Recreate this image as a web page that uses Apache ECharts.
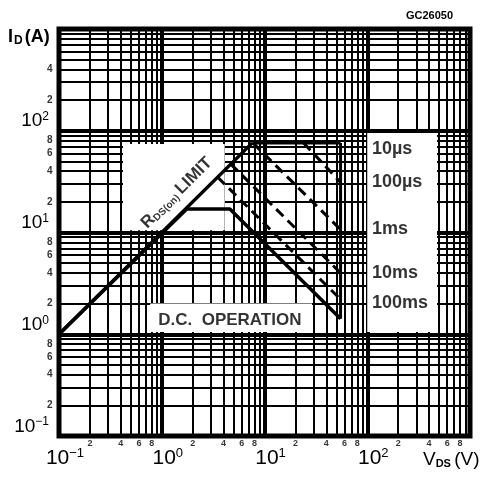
<!DOCTYPE html>
<html>
<head>
<meta charset="utf-8">
<script src="https://cdn.jsdelivr.net/npm/echarts@6/dist/echarts.min.js"></script>
<style>
    html, body { margin: 0; padding: 0; background: #fff; }
    #chart { width: 487px; height: 479px; }
</style>
</head>
<body>
<div id="chart"></div>
<script>
// safe operating area, points are [VDS (V), ID (A)]
var rdsLimit = [[0.1, 1], [7.6, 76]];
var pulse10us = [[7.6, 76], [55, 76]];
var pulse100us = [[24, 76], [55, 31]];
var pulse1ms = [[7.7, 76], [55, 10.7]];
var pulse10ms = [[4.7, 47], [55, 4.0]];
var pulse100ms = [[3.5, 35], [55, 2.2]];
var dcOperation = [[0.1, 1], [1.75, 17], [4.6, 17], [55, 1.42]];
var vdsLimit = [[55, 76], [55, 1.42]];

var pulseNames = ['10\u00b5s', '100\u00b5s', '1ms', '10ms', '100ms'];
var pulseLabelLevels = [66, 31, 10.7, 4.0, 2.04];

var decades = [0.1, 1, 10, 100];
var xMinorLabels = [0.2, 0.4, 0.6, 0.8, 2, 4, 6, 8, 20, 40, 60, 80, 200, 400, 600, 800];
var yMinorLabels = [0.2, 0.4, 0.6, 0.8, 2, 4, 6, 8, 20, 40, 60, 80, 200, 400];

// white boxes behind the texts, [[V, I], [V, I]]
var rdsBox = [[0.42, 74], [4.1, 10.5]];
var dcBox = [[0.77, 2.01], [29, 1.05]];
var legendBox = [[100, 95], [477, 1.05]];

var FONT = '"Liberation Sans", Arial, sans-serif';

function leadDigit(v) {
    var d = Math.pow(10, Math.floor(Math.log10(v) + 1e-9));
    return String(Math.round(v / d));
}

function gridLines(axisKey) {
    var lines = [];
    decades.forEach(function (d) {
        for (var m = 1; m <= 9; m++) {
            var item = {lineStyle: {width: m === 1 ? 4 : 2}};
            item[axisKey] = d * m;
            lines.push(item);
        }
    });
    return lines;
}

function curve(name, data, dashed, width) {
    return {
        name: name,
        type: 'line',
        data: data,
        symbol: 'none',
        z: 4,
        silent: true,
        lineStyle: {color: '#000', width: width, type: dashed ? [10, 6] : 'solid'}
    };
}

function box(b) {
    return [{coord: b[0]}, {coord: b[1]}];
}

function decadeLabel(value) {
    var e = Math.round(Math.log10(value));
    if (e === 3) {
        return '';
    }
    return '{b|10}{s|' + (e < 0 ? '\u2212' + (-e) : e) + '}';
}

var chart = echarts.init(document.getElementById('chart'));

var option = {
    animation: false,
    backgroundColor: '#fff',
    grid: {
        left: 59, right: 17, top: 29, bottom: 43,
        show: true, borderColor: '#000', borderWidth: 5
    },
    xAxis: {
        type: 'log', logBase: 10, min: 0.1, max: 1000,
        axisLine: {show: false},
        axisTick: {show: false},
        splitLine: {show: false},
        axisLabel: {
            margin: 11,
            padding: [0, 0, 0, 12],
            formatter: decadeLabel,
            rich: {
                b: {fontSize: 21, fontFamily: FONT, color: '#000', verticalAlign: 'bottom'},
                s: {fontSize: 13, fontFamily: FONT, color: '#000', verticalAlign: 'bottom', padding: [0, 0, 9, 0]}
            }
        }
    },
    yAxis: {
        type: 'log', logBase: 10, min: 0.1, max: 1000,
        axisLine: {show: false},
        axisTick: {show: false},
        splitLine: {show: false},
        axisLabel: {
            margin: 10,
            verticalAlign: 'bottom',
            formatter: decadeLabel,
            rich: {
                b: {fontSize: 19, fontFamily: FONT, color: '#000', verticalAlign: 'bottom'},
                s: {fontSize: 12, fontFamily: FONT, color: '#000', verticalAlign: 'bottom', padding: [0, 0, 8, 0]}
            }
        }
    },
    graphic: [
        {
            type: 'text', left: 8, top: 28,
            style: {
                text: '{i|I}{d|D}{a|(A)}',
                rich: {
                    i: {fontSize: 18, fontWeight: 'bold', fontFamily: FONT, fill: '#000'},
                    d: {fontSize: 12, fontWeight: 'bold', fontFamily: FONT, fill: '#000', verticalAlign: 'bottom', padding: [8, 2, 0, 1]},
                    a: {fontSize: 18, fontWeight: 'bold', fontFamily: FONT, fill: '#000'}
                }
            }
        },
        {
            type: 'text', left: 423, top: 450,
            style: {
                text: '{v|V}{d|DS} {a|(V)}',
                rich: {
                    v: {fontSize: 19, fontFamily: FONT, fill: '#000'},
                    d: {fontSize: 11, fontWeight: 'bold', fontFamily: FONT, fill: '#000', verticalAlign: 'bottom', padding: [9, 0, 0, 0]},
                    a: {fontSize: 19, fontFamily: FONT, fill: '#000'}
                }
            }
        },
        {
            type: 'text', left: 406, top: 10,
            style: {text: 'GC26050', fontSize: 11, fontWeight: 'bold', fontFamily: FONT, fill: '#000'}
        }
    ],
    series: [
        {
            name: 'grid',
            type: 'line',
            data: [],
            silent: true,
            markLine: {
                z: 1,
                silent: true,
                symbol: ['none', 'none'],
                label: {show: false},
                lineStyle: {color: '#000', type: 'solid', width: 2},
                data: gridLines('xAxis').concat(gridLines('yAxis'))
            },
            markArea: {
                z: 2,
                silent: true,
                itemStyle: {color: '#fff'},
                data: [box(rdsBox), box(dcBox), box(legendBox)]
            }
        },
        curve('RDS(on) limit', rdsLimit, false, 3.5),
        curve('10\u00b5s', pulse10us, false, 3),
        curve('100\u00b5s', pulse100us, true, 3),
        curve('1ms', pulse1ms, true, 3),
        curve('10ms', pulse10ms, true, 3),
        curve('100ms', pulse100ms, true, 3),
        curve('D.C. operation', dcOperation, false, 3.5),
        curve('VDS max', vdsLimit, false, 3),
        {
            name: 'x minor labels',
            type: 'scatter',
            symbolSize: 1,
            clip: false,
            silent: true,
            z: 5,
            itemStyle: {color: 'rgba(0,0,0,0)'},
            data: xMinorLabels.map(function (v) { return [v, 0.1]; }),
            label: {
                show: true, position: 'bottom', distance: 3,
                fontSize: 9, fontWeight: 'bold', fontFamily: FONT, color: '#000',
                formatter: function (p) { return leadDigit(p.value[0]); }
            }
        },
        {
            name: 'y minor labels',
            type: 'scatter',
            symbolSize: 1,
            clip: false,
            silent: true,
            z: 5,
            itemStyle: {color: 'rgba(0,0,0,0)'},
            data: yMinorLabels.map(function (v) { return [0.1, v]; }),
            label: {
                show: true, position: 'left', distance: 6,
                fontSize: 10, fontWeight: 'bold', fontFamily: FONT, color: '#000',
                formatter: function (p) { return leadDigit(p.value[1]); }
            }
        },
        {
            name: 'pulse labels',
            type: 'scatter',
            symbolSize: 1,
            silent: true,
            z: 5,
            itemStyle: {color: 'rgba(0,0,0,0)'},
            data: pulseLabelLevels.map(function (v, i) {
                return {value: [105, v], name: pulseNames[i]};
            }),
            label: {
                show: true, position: 'right', distance: 2,
                fontSize: 18, fontWeight: 'bold', fontFamily: FONT, color: '#000',
                formatter: '{b}'
            }
        },
        {
            name: 'box texts',
            type: 'scatter',
            symbolSize: 1,
            silent: true,
            z: 5,
            itemStyle: {color: 'rgba(0,0,0,0)'},
            data: [
                {value: [4.6, 1.37], label: {formatter: 'D.C.  OPERATION', fontSize: 17}},
                {
                    value: [1.4, 24.5],
                    label: {
                        rotate: 45,
                        formatter: '{r|R}{d|DS(on)} {l|LIMIT}',
                        rich: {
                            r: {fontSize: 17, fontWeight: 'bold', fontFamily: FONT, color: '#000'},
                            d: {fontSize: 10, fontWeight: 'bold', fontFamily: FONT, color: '#000', verticalAlign: 'bottom'},
                            l: {fontSize: 17, fontWeight: 'bold', fontFamily: FONT, color: '#000'}
                        }
                    }
                }
            ],
            label: {
                show: true, position: 'inside',
                fontWeight: 'bold', fontFamily: FONT, color: '#000'
            }
        }
    ]
};

chart.setOption(option);
</script>
</body>
</html>
